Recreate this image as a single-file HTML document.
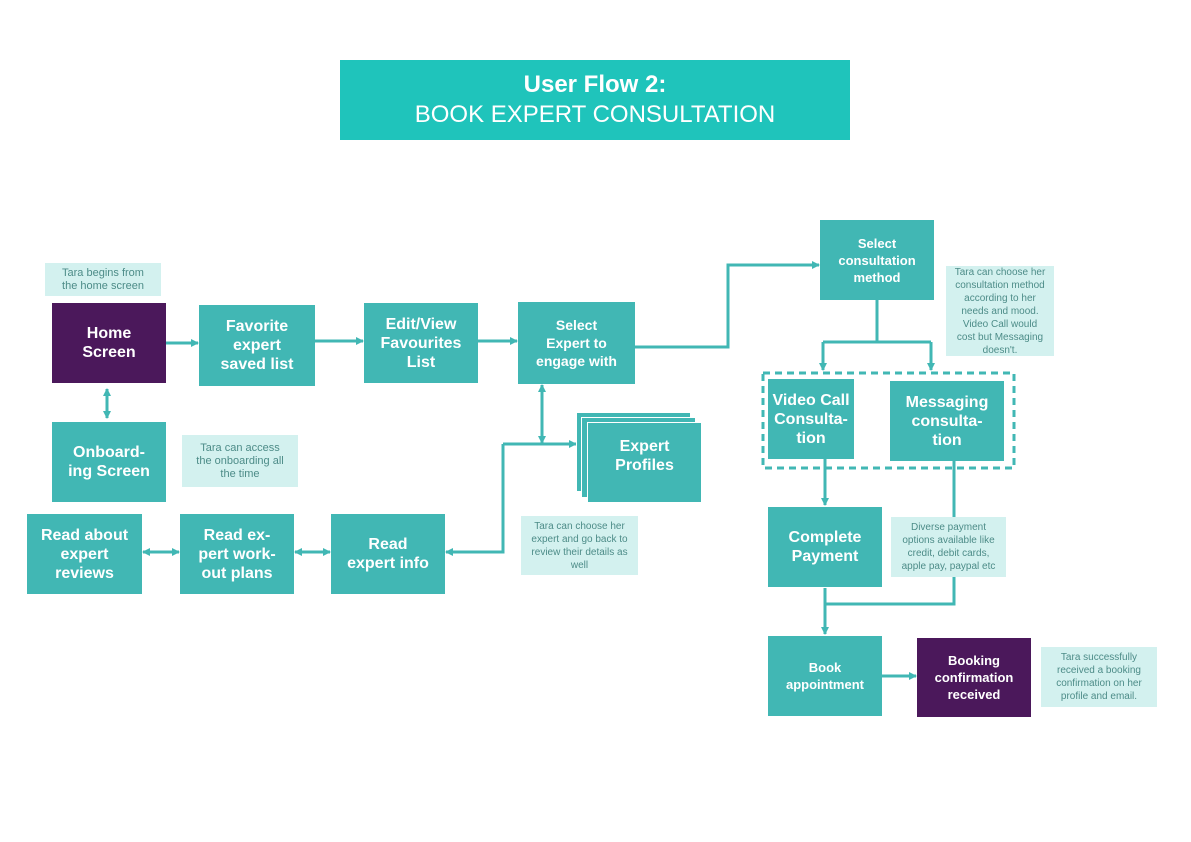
<!DOCTYPE html>
<html><head><meta charset="utf-8"><style>
body{margin:0;width:1191px;height:842px;background:#fff;position:relative;overflow:hidden;font-family:"Liberation Sans",Arial,sans-serif}
.n{position:absolute;background:#41b7b4;color:#fff;font-weight:bold;display:flex;align-items:center;justify-content:center;text-align:center;font-size:16px;line-height:19px;box-sizing:border-box}
.p{background:#4b185b}
.t{position:absolute;background:#d3f1ef;color:#4d8c88;font-size:11px;line-height:13px;text-align:center;display:flex;align-items:center;justify-content:center}
svg{position:absolute;left:0;top:0}
</style></head><body>
<div class="n" style="left:340px;top:60px;width:510px;height:80px;background:#1fc4bb;flex-direction:column;font-weight:normal;font-size:24px;line-height:30px"><b>User Flow 2:</b><span>BOOK EXPERT CONSULTATION</span></div>

<svg width="1191" height="842">
<defs><marker id="a" markerWidth="8" markerHeight="8" refX="7" refY="4" orient="auto" markerUnits="userSpaceOnUse"><path d="M0,0L8,4L0,8z" fill="#41b7b4"/></marker>
<marker id="s" markerWidth="8" markerHeight="8" refX="1" refY="4" orient="auto" markerUnits="userSpaceOnUse"><path d="M8,0L0,4L8,8z" fill="#41b7b4"/></marker></defs>
<g stroke="#41b7b4" stroke-width="3" fill="none">
<path d="M166,343H198" marker-end="url(#a)"/>
<path d="M315,341H363" marker-end="url(#a)"/>
<path d="M478,341H517" marker-end="url(#a)"/>
<path d="M635,347H728V265H819" marker-end="url(#a)"/>
<path d="M107,389V418" marker-start="url(#s)" marker-end="url(#a)"/>
<path d="M542,385V443" marker-start="url(#s)" marker-end="url(#a)"/>
<path d="M503,444H576" marker-end="url(#a)"/>
<path d="M503,444V552H446" marker-end="url(#a)"/>
<path d="M143,552H179" marker-start="url(#s)" marker-end="url(#a)"/>
<path d="M295,552H330" marker-start="url(#s)" marker-end="url(#a)"/>
<path d="M877,300V342"/>
<path d="M823,342H931"/>
<path d="M823,342V370" marker-end="url(#a)"/>
<path d="M931,342V370" marker-end="url(#a)"/>
<path d="M825,459V505" marker-end="url(#a)"/>
<path d="M954,461V604H825"/>
<path d="M825,588V634" marker-end="url(#a)"/>
<path d="M882,676H916" marker-end="url(#a)"/>
<rect x="763" y="373" width="251" height="95" stroke-dasharray="7,5"/>
</g></svg>

<div class="n p" style="left:52px;top:303px;width:114px;height:80px">Home<br>Screen</div>
<div class="n" style="left:199px;top:305px;width:116px;height:81px">Favorite<br>expert<br>saved list</div>
<div class="n" style="left:364px;top:303px;width:114px;height:80px">Edit/View<br>Favourites<br>List</div>
<div class="n" style="left:518px;top:302px;width:117px;height:82px;font-size:14px;line-height:18px">Select<br>Expert to<br>engage with</div>
<div class="n" style="left:820px;top:220px;width:114px;height:80px;font-size:13px;line-height:17px">Select<br>consultation<br>method</div>
<div class="n" style="left:52px;top:422px;width:114px;height:80px">Onboard-<br>ing Screen</div>
<div class="n" style="left:27px;top:514px;width:115px;height:80px">Read about<br>expert<br>reviews</div>
<div class="n" style="left:180px;top:514px;width:114px;height:80px">Read ex-<br>pert work-<br>out plans</div>
<div class="n" style="left:331px;top:514px;width:114px;height:80px">Read<br>expert info</div>
<div class="n" style="left:576px;top:412px;width:115px;height:80px;border:1px solid #fff"></div>
<div class="n" style="left:581px;top:417px;width:115px;height:81px;border:1px solid #fff"></div>
<div class="n" style="left:587px;top:422px;width:115px;height:81px;border:1px solid #fff;padding-bottom:14px">Expert<br>Profiles</div>
<div class="n" style="left:768px;top:379px;width:86px;height:80px">Video Call<br>Consulta-<br>tion</div>
<div class="n" style="left:890px;top:381px;width:114px;height:80px">Messaging<br>consulta-<br>tion</div>
<div class="n" style="left:768px;top:507px;width:114px;height:80px">Complete<br>Payment</div>
<div class="n" style="left:768px;top:636px;width:114px;height:80px;font-size:13px;line-height:17px">Book<br>appointment</div>
<div class="n p" style="left:917px;top:638px;width:114px;height:79px;font-size:13px;line-height:17px">Booking<br>confirmation<br>received</div>

<div class="t" style="left:45px;top:263px;width:116px;height:33px">Tara begins from<br>the home screen</div>
<div class="t" style="left:182px;top:435px;width:116px;height:52px">Tara can access<br>the onboarding all<br>the time</div>
<div class="t" style="left:521px;top:516px;width:117px;height:59px;font-size:10px">Tara can choose her<br>expert and go back to<br>review their details as<br>well</div>
<div class="t" style="left:946px;top:266px;width:108px;height:90px;font-size:10px">Tara can choose her<br>consultation method<br>according to her<br>needs and mood.<br>Video Call would<br>cost but Messaging<br>doesn't.</div>
<div class="t" style="left:891px;top:517px;width:115px;height:60px;font-size:10px">Diverse payment<br>options available like<br>credit, debit cards,<br>apple pay, paypal etc</div>
<div class="t" style="left:1041px;top:647px;width:116px;height:60px;font-size:10px">Tara successfully<br>received a booking<br>confirmation on her<br>profile and email.</div>
</body></html>
